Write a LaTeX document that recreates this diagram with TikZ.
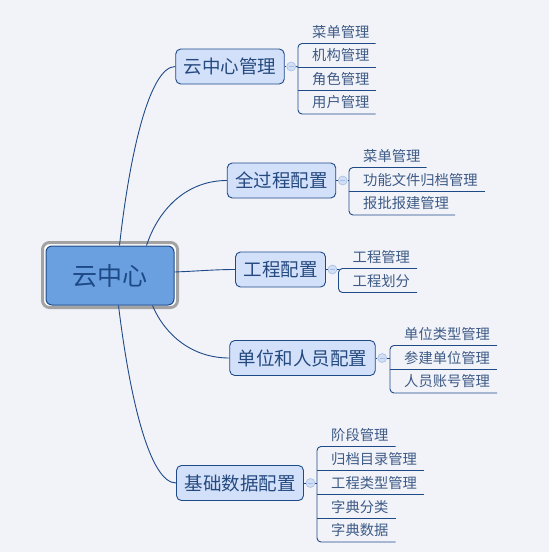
\documentclass[tikz,border=0pt]{standalone}
\usepackage{fontspec}
\newfontfamily\cjk{Noto Sans CJK SC}
\usetikzlibrary{calc}
\definecolor{bg}{HTML}{F2F3F9}
\definecolor{navy}{HTML}{1E4A88}
\definecolor{rootfill}{HTML}{6A9FE0}
\definecolor{roottxt}{HTML}{1D4A86}
\definecolor{topicfill}{HTML}{D3E0FA}
\definecolor{framegray}{HTML}{A3A3A3}
\definecolor{txt}{HTML}{24497E}
\definecolor{leaftxt}{HTML}{3D5A85}
\definecolor{collfill}{HTML}{D2DEF4}
\definecolor{colledge}{HTML}{A6BEE6}
\begin{document}
\begin{tikzpicture}[x=1pt,y=-1pt,
  conn/.style={draw=navy,line width=0.9pt},
  rootbox/.style={draw=navy,fill=rootfill,rounded corners=6pt,line width=1pt,
    minimum width=128pt,minimum height=59pt,inner sep=0pt,
    font=\cjk\fontsize{25pt}{28pt}\selectfont,text=roottxt,text height=22pt,text depth=3pt},
  topic/.style={draw=navy,fill=topicfill,rounded corners=5pt,line width=0.9pt,
    minimum height=35pt,inner xsep=8pt,inner ysep=0pt,
    font=\cjk\fontsize{18.5pt}{20pt}\selectfont,text=txt,text height=16.3pt,text depth=2.2pt},
  leaf/.style={inner sep=0pt,anchor=west,font=\cjk\fontsize{14.3pt}{16pt}\selectfont,
    text=leaftxt,text height=12.6pt,text depth=1.7pt},
  coll/.style={circle,draw=colledge,fill=collfill,minimum size=9pt,inner sep=0pt,line width=0.6pt,
    path picture={\draw[colledge,line width=0.8pt]
      ([xshift=-2.5pt]path picture bounding box.center) -- ([xshift=2.5pt]path picture bounding box.center);}},
  ul/.style={conn,rounded corners=4pt}
]
\fill[bg] (0,0) rectangle (549,552);
\useasboundingbox (0,0) rectangle (549,552);

% root
\draw[framegray,line width=3pt,fill=white,rounded corners=7pt] (42.5,242.5) rectangle (177.5,307.5);
\node[rootbox] (c) at (110,275.5) {云中心};

% topics
\node[topic] (t1) at (230,66.5) {云中心管理};
\node[topic] (t2) at (281.5,180.5) {全过程配置};
\node[topic] (t3) at (280.5,269.5) {工程配置};
\node[topic] (t4) at (302.5,358) {单位和人员配置};
\node[topic] (t5) at (240,483) {基础数据配置};

% main connectors
\draw[conn] ($(c.north west)+(74,0)$) .. controls (130,151) and (150,66.5) .. (t1.west);
\draw[conn] ($(c.north west)+(101,0)$) .. controls (160,205) and (190,180.5) .. (t2.west);
\draw[conn] ($(c.east)+(0,-3.5)$) .. controls (200,271) and (215,269.5) .. (t3.west);
\draw[conn] ($(c.south west)+(107,0)$) .. controls (165,335) and (192,358) .. (t4.west);
\draw[conn] ($(c.south west)+(73,0)$) .. controls (130,400) and (150,483) .. (t5.west);

% collapse circles
\node[coll] (k1) at ($(t1.east)+(6.5,0)$) {};
\node[coll] (k2) at ($(t2.east)+(6.5,0)$) {};
\node[coll] (k3) at ($(t3.east)+(6.5,0)$) {};
\node[coll] (k4) at ($(t4.east)+(6.5,0)$) {};
\node[coll] (k5) at ($(t5.east)+(6.5,0)$) {};
\foreach \i in {1,...,5} \draw[conn] (t\i.east) -- (k\i.west);

% group 1 (bracket x=298)
\node[leaf] (a1) at (312,32) {菜单管理};
\node[leaf] (a2) at (312,55.5) {机构管理};
\node[leaf] (a3) at (312,79) {角色管理};
\node[leaf] (a4) at (312,102.5) {用户管理};
\coordinate (b1) at (298,67);
\draw[conn] (k1.east) -- (b1);
\draw[ul] ($(a1.east)+(6,11.5)$) -- (298,43.5) -- (298,114) -- ($(a4.east)+(6,11.5)$);
\draw[conn] (298,67) -- ($(a2.east)+(6,11.5)$);
\draw[conn] (298,90.5) -- ($(a3.east)+(6,11.5)$);

% group 2 (bracket x=349)
\node[leaf] (p1) at (363,156) {菜单管理};
\node[leaf] (p2) at (363,180) {功能文件归档管理};
\node[leaf] (p3) at (363,203.5) {报批报建管理};
\coordinate (b2) at (349,180.5);
\draw[conn] (k2.east) -- (b2);
\draw[ul] ($(p1.east)+(6,11.5)$) -- (349,167.5) -- (349,215) -- ($(p3.east)+(6,11.5)$);
\draw[conn] (349,191.5) -- ($(p2.east)+(7,11.5)$);

% group 3 (bracket x=338.5)
\node[leaf] (g1) at (352.5,257) {工程管理};
\node[leaf] (g2) at (352.5,281) {工程划分};
\coordinate (b3) at (338.5,269.5);
\draw[conn] (k3.east) -- (b3);
\draw[ul] ($(g1.east)+(7,11.5)$) -- (338.5,268.5) -- (338.5,292.5) -- ($(g2.east)+(7,11.5)$);

% group 4 (bracket x=390)
\node[leaf] (u1) at (404,334) {单位类型管理};
\node[leaf] (u2) at (404,358) {参建单位管理};
\node[leaf] (u3) at (404,381.5) {人员账号管理};
\coordinate (b4) at (390,358);
\draw[conn] (k4.east) -- (b4);
\draw[ul] ($(u1.east)+(7,11.5)$) -- (390,345.5) -- (390,393) -- ($(u3.east)+(7,11.5)$);
\draw[conn] (390,369.5) -- ($(u2.east)+(7,11.5)$);

% group 5 (bracket x=317)
\node[leaf] (d1) at (331,435) {阶段管理};
\node[leaf] (d2) at (331,459) {归档目录管理};
\node[leaf] (d3) at (331,483) {工程类型管理};
\node[leaf] (d4) at (331,507) {字典分类};
\node[leaf] (d5) at (331,530.5) {字典数据};
\coordinate (b5) at (317,483);
\draw[conn] (k5.east) -- (b5);
\draw[ul] ($(d1.east)+(7,11.5)$) -- (317,446.5) -- (317,542) -- ($(d5.east)+(7,11.5)$);
\draw[conn] (317,470.5) -- ($(d2.east)+(7,11.5)$);
\draw[conn] (317,494.5) -- ($(d3.east)+(7,11.5)$);
\draw[conn] (317,518.5) -- ($(d4.east)+(7,11.5)$);
\end{tikzpicture}
\end{document}
